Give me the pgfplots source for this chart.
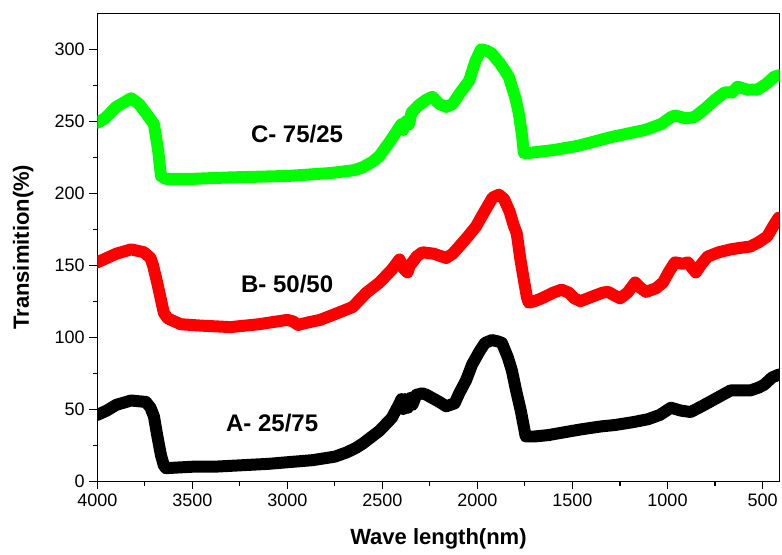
\documentclass[border=0pt]{standalone}
\usepackage{fontspec}
\setmainfont{Liberation Sans}
\usepackage{pgfplots}
\pgfplotsset{compat=1.18}
\definecolor{cA}{RGB}{0,0,0}
\definecolor{cB}{RGB}{255,0,0}
\definecolor{cC}{RGB}{0,255,0}
\begin{document}
\begin{tikzpicture}
\begin{axis}[
  scale only axis,
  width=512pt, height=351pt,
  x dir=reverse,
  xmin=410, xmax=4000,
  ymin=0, ymax=325,
  xtick={500,1000,...,4000},
  minor x tick num=1,
  ytick={0,50,...,300},
  minor y tick num=1,
  tick align=outside,
  xtick pos=left, ytick pos=left,
  major tick length=6pt, minor tick length=3.5pt,
  tick style={black, line width=0.8pt},
  axis line style={line width=0.8pt},
  ticklabel style={font=\fontsize{13.5}{15}\selectfont},
  /pgf/number format/assume math mode=true,
  /pgf/number format/set thousands separator={},
  xlabel={Wave length(nm)},
  ylabel={Transimition(\%)},
  label style={font=\fontsize{16.5}{18}\selectfont\bfseries},
  xlabel style={yshift=-10pt},
  ylabel style={yshift=9pt},
  every axis plot/.append style={line width=9pt, line join=round, line cap=round},
]
% A- 25/75
\addplot[cA] coordinates {
(4000,46) (3950,49) (3900,53) (3822,56) (3744,55) (3720,51) (3702,45) (3685,32)
(3665,18) (3650,11) (3639,9) (3500,10) (3388,10) (3100,12) (2865,14.6) (2750,17)
(2687,20) (2640,23) (2604,26) (2515,35) (2450,44) (2410,54) (2400,57) (2390,50)
(2380,57) (2365,51) (2350,58) (2342,53) (2321,60) (2290,61) (2269,60) (2200,55)
(2164,52) (2120,54) (2096,61) (2060,70) (2028,81) (1990,90) (1960,96) (1924,98)
(1890,97) (1871,96) (1840,86) (1819,77) (1795,62) (1772,49) (1746,31) (1700,31)
(1626,32) (1540,34) (1453,36) (1350,38) (1275,39) (1180,41) (1103,43) (1040,46)
(982,51) (930,49) (878,48) (820,52) (737,58) (668,63) (600,63) (564,63)
(520,65) (491,67) (450,72) (415,74)
};
% B- 50/50
\addplot[cB] coordinates {
(4000,152) (3950,155) (3900,158) (3822,161) (3754,159) (3720,155) (3707,150) (3685,138)
(3665,126) (3650,117) (3629,113) (3561,109) (3450,108) (3299,107) (3150,109) (3001,112)
(2970,111) (2943,108.5) (2900,110) (2828,112) (2750,116) (2656,121) (2620,126) (2583,131)
(2515,138) (2450,147) (2410,154) (2390,148) (2368,145) (2355,150) (2342,152) (2320,156)
(2290,159) (2230,158) (2164,155) (2130,158) (2096,163) (2050,170) (2007,177) (1960,188)
(1920,197) (1887,199) (1860,196) (1830,187) (1810,178) (1793,172) (1775,155) (1756,140)
(1740,128) (1730,124) (1700,125) (1662,127) (1600,131) (1558,133) (1520,131) (1490,127)
(1458,125) (1400,128) (1340,131) (1312,131.5) (1280,129) (1249,127) (1210,131) (1170,138)
(1140,134) (1113,131.5) (1060,134) (1024,138) (990,146) (961,152) (920,151) (893,152)
(870,148) (851,145) (820,151) (789,156) (730,159) (668,161) (620,162) (564,163)
(520,166) (475,170) (440,178) (415,183)
};
% C- 75/25
\addplot[cC] coordinates {
(4000,249) (3960,252) (3900,260) (3822,266) (3780,262) (3740,255) (3702,248) (3680,230)
(3665,212) (3640,210) (3500,210) (3300,211) (3000,212) (2776,214) (2650,216) (2604,218)
(2550,222) (2515,226) (2460,236) (2400,248) (2390,244) (2375,250) (2360,248) (2347,256)
(2310,261) (2269,265) (2237,267) (2200,262) (2164,260) (2130,262) (2090,270) (2044,278)
(2010,292) (1981,300) (1950,299) (1924,297) (1880,290) (1835,281) (1800,266) (1783,256)
(1765,240) (1756,228) (1730,228) (1600,230) (1469,233) (1296,239) (1118,244) (1034,248)
(980,253) (961,254) (900,252) (857,253) (800,259) (750,265) (700,270) (660,270)
(632,274) (580,272) (527,272) (480,276) (438,281) (410,282)
};
\node[font=\fontsize{18}{20}\selectfont\bfseries] at (axis cs:2949,241) {C- 75/25};
\node[font=\fontsize{18}{20}\selectfont\bfseries] at (axis cs:3001,137) {B- 50/50};
\node[font=\fontsize{18}{20}\selectfont\bfseries] at (axis cs:3080,40) {A- 25/75};
\end{axis}
\path (current axis.south west) ++(-73pt,-53pt) rectangle ([shift={(1.5pt,10pt)}]current axis.north east);
\end{tikzpicture}
\end{document}
